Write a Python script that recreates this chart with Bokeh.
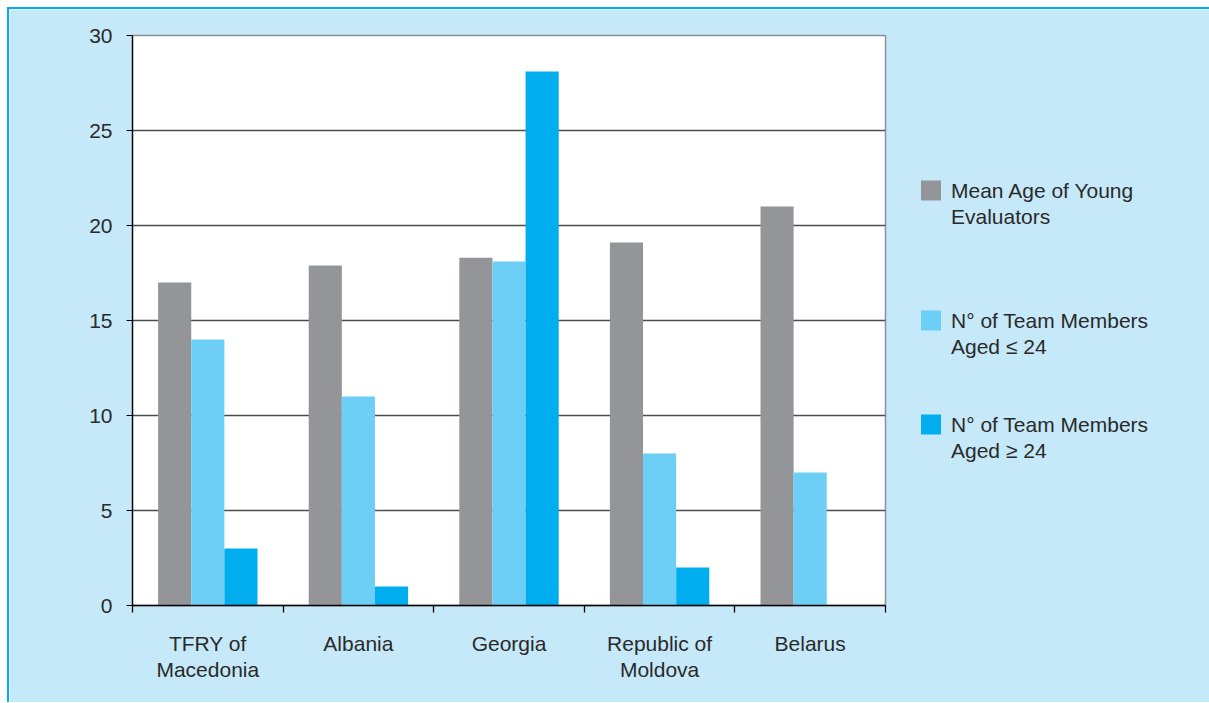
from bokeh.plotting import figure
from bokeh.models import ColumnDataSource, FixedTicker, Legend, LegendItem, Range1d
from bokeh.transform import dodge
from bokeh.embed import file_html
from bokeh.resources import INLINE

categories = ["TFRY of\nMacedonia", "Albania", "Georgia", "Republic of\nMoldova", "Belarus"]
mean_age = [17.0, 17.9, 18.3, 19.1, 21.0]
members_le24 = [14.0, 11.0, 18.1, 8.0, 7.0]
members_ge24 = [3.0, 1.0, 28.1, 2.0, 0.0]
series_labels = [["Mean Age of Young", "Evaluators"],
                 ["N° of Team Members", "Aged ≤ 24"],
                 ["N° of Team Members", "Aged ≥ 24"]]
y_ticks = [0, 5, 10, 15, 20, 25, 30]

colors = ["#939598", "#6dcff6", "#00aeef"]
BG = "#c6e9f9"
FONT = "Liberation Sans"
TXT = "#2a2a2a"

n = len(categories)
centers = [i + 0.5 for i in range(n)]
src = ColumnDataSource(dict(x=centers, a=mean_age, b=members_le24, c=members_ge24))

p = figure(frame_width=753, frame_height=570, output_backend="svg", toolbar_location=None,
           x_range=Range1d(0, n), y_range=Range1d(y_ticks[0], y_ticks[-1]))
p.styles = {"border-top": "2px solid #00aeef", "border-left": "2px solid #00aeef",
            "margin-top": "7px", "margin-left": "7px"}
p.min_border_left = 123
p.min_border_right = 324
p.min_border_top = 26
p.min_border_bottom = 97
p.background_fill_color = "white"
p.border_fill_color = BG
p.outline_line_color = "#8a9095"
p.outline_line_width = 1.5

w = 0.22
r1 = p.vbar(x=dodge("x", -w, range=p.x_range), top="a", width=w, source=src, color=colors[0], line_color=None)
r2 = p.vbar(x=dodge("x", 0, range=p.x_range), top="b", width=w, source=src, color=colors[1], line_color=None)
r3 = p.vbar(x=dodge("x", w, range=p.x_range), top="c", width=w, source=src, color=colors[2], line_color=None)
# invisible swatch used for the continuation lines of the legend labels
ghost = p.vbar(x=[], top=[], width=w, fill_alpha=0, line_alpha=0)

# grid
p.xgrid.visible = False
p.ygrid.ticker = FixedTicker(ticks=y_ticks[1:-1])
p.ygrid.grid_line_color = "#4d4d4d"
p.ygrid.grid_line_width = 1.4

# y axis
yax = p.yaxis[0]
yax.ticker = FixedTicker(ticks=y_ticks)
yax.axis_line_color = "black"
yax.axis_line_width = 1.3
yax.major_tick_line_color = "black"
yax.major_tick_in = 0
yax.major_tick_out = 6
yax.minor_tick_line_color = None
yax.major_label_standoff = 14
yax.major_label_text_font = FONT
yax.major_label_text_font_size = "21px"
yax.major_label_text_color = TXT

# x axis
xax = p.xaxis[0]
xax.ticker = FixedTicker(ticks=centers, minor_ticks=list(range(n + 1)))
xax.major_label_overrides = {c: lab for c, lab in zip(centers, categories)}
xax.axis_line_color = "black"
xax.axis_line_width = 1.3
xax.major_tick_line_color = None
xax.major_tick_out = 0
xax.major_tick_in = 0
xax.minor_tick_line_color = "black"
xax.minor_tick_line_width = 1.3
xax.minor_tick_in = 0
xax.minor_tick_out = 7
xax.major_label_standoff = 19
xax.major_label_text_font = FONT
xax.major_label_text_font_size = "21px"
xax.major_label_text_color = TXT
xax.major_label_text_line_height = 1.15

renderers = [r1, r2, r3]
gaps = [3, 2, 0]  # blank rows after each entry
items = []
for rend, (first, second), gap in zip(renderers, series_labels, gaps):
    items.append(LegendItem(label=first, renderers=[rend]))
    items.append(LegendItem(label=second, renderers=[ghost]))
    for _ in range(gap):
        items.append(LegendItem(label=" ", renderers=[ghost]))

legend = Legend(items=items, location="center_left")
legend.background_fill_alpha = 0
legend.border_line_color = None
legend.padding = 0
legend.margin = 33
legend.spacing = 1
legend.glyph_width = 25
legend.glyph_height = 25
legend.label_height = 20
legend.label_standoff = 8
legend.label_text_font = FONT
legend.label_text_font_size = "21px"
legend.label_text_color = TXT
p.add_layout(legend, "right")

open("out.html", "w").write(file_html(p, INLINE))
